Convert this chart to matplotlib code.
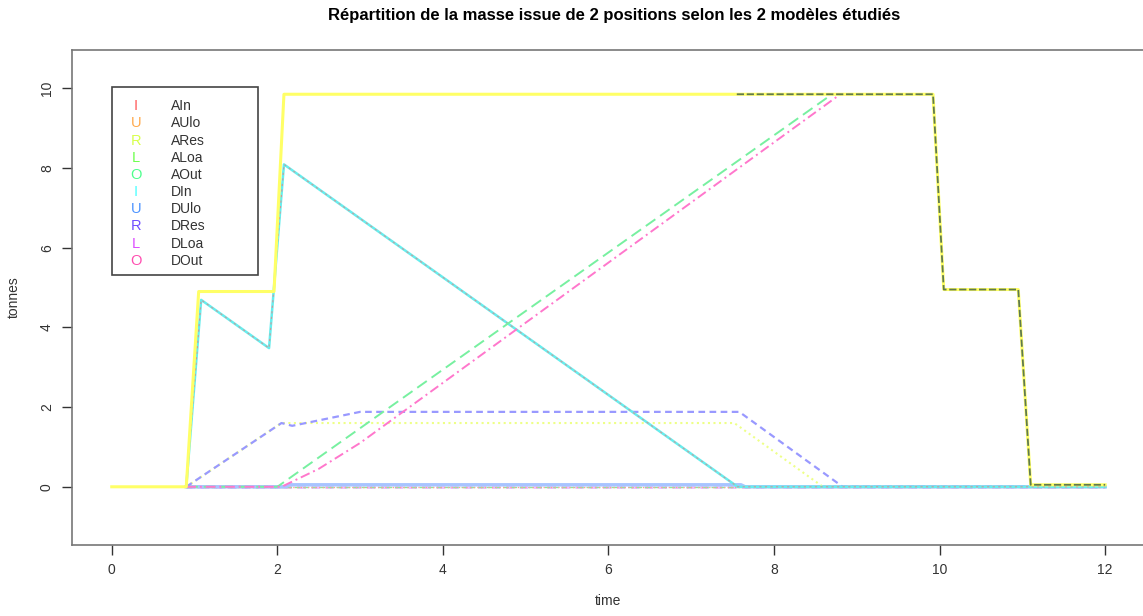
import matplotlib
matplotlib.use("Agg")
import matplotlib.pyplot as plt
from matplotlib.patches import Rectangle

plt.rcParams["font.family"] = ["Liberation Sans", "DejaVu Sans"]

# values (time in x, tonnes in y)
t_in = [0.9, 1.08, 1.9, 2.08, 7.56, 12]
v_in = [0, 4.69, 3.48, 8.09, 0, 0]

t_ulo = [0.9, 2.1, 2.15, 7.6, 7.65, 12]
v_ulo = [0, 0, 0.05, 0.05, 0, 0]

t_ares = [0.9, 2.05, 7.52, 8.59, 12]
v_ares = [0, 1.6, 1.6, 0, 0]

t_dres = [0.9, 2.05, 2.18, 3.0, 7.58, 8.83, 12]
v_dres = [0, 1.6, 1.53, 1.88, 1.88, 0, 0]

t_aout = [0.9, 2.0, 8.7, 9.9]
v_aout = [0, 0, 9.85, 9.85]

t_dout = [0.9, 2.05, 2.5, 3.0, 8.8, 9.9]
v_dout = [0, 0, 0.45, 1.1, 9.85, 9.85]

t_zero = [0.9, 12]
v_zero = [0, 0]

t_total = [0, 0.9, 1.05, 1.96, 2.08, 9.92, 10.05, 10.95, 11.1, 12]
v_total = [0, 0, 4.9, 4.9, 9.85, 9.85, 4.95, 4.95, 0.05, 0.05]

t_stock = [7.55, 9.92, 10.05, 10.95, 11.1, 12]
v_stock = [9.85, 9.85, 4.95, 4.95, 0.05, 0.05]

names = ["AIn", "AUlo", "ARes", "ALoa", "AOut", "DIn", "DUlo", "DRes", "DLoa", "DOut"]
letters = ["I", "U", "R", "L", "O", "I", "U", "R", "L", "O"]
colors = ["#ff5c5c", "#ffaa4d", "#d8ff4d", "#6dff4d", "#4dff8c",
          "#4dffff", "#4d94ff", "#704dff", "#dc4dff", "#ff4db0"]

fig = plt.figure(figsize=(11.43, 6.16), dpi=100)
ax = fig.add_axes([0.063, 0.1153, 0.9387, 0.8035])

# lines at zero
ax.plot(t_zero, v_zero, color="#eebbff", lw=2, ls=(0, (3, 2)))
ax.plot(t_zero, v_zero, color="#88ee99", lw=1, ls=(0, (4, 2)))
ax.plot(t_zero, v_zero, color="#ff9999", lw=1, ls=":")
ax.plot([0.9, 2.1], [0, 0], color="#8866ff", lw=1.6, ls=(0, (3, 2)))
ax.plot(t_ulo, v_ulo, color="#a8c4ff", lw=2.5)

ax.plot(t_ares, v_ares, color="#eeff88", lw=1.5, ls=":")
ax.plot(t_dres, v_dres, color="#9999ff", lw=1.6, ls=(0, (3, 2)))
ax.plot(t_in, v_in, color="#66eeee", lw=1.8)
ax.plot(t_in, v_in, color="#cc9999", lw=0.8, ls=(0, (2, 3)))
ax.plot(t_aout, v_aout, color="#77f0a0", lw=1.4, ls=(0, (6, 3)))
ax.plot(t_dout, v_dout, color="#ff77cc", lw=1.4, ls=(0, (5, 2, 1, 2)))

ax.plot(t_total, v_total, color="#ffff66", lw=2.2)
ax.plot(t_stock, v_stock, color="#5f7a50", lw=1.3, ls=(0, (4, 1.5)))

ax.set_xlim(-0.48, 12.48)
ax.set_ylim(-1.46, 10.96)
ax.set_xticks(range(0, 13, 2))
ax.set_yticks(range(0, 11, 2))
for s in ax.spines.values():
    s.set_color("#777777")
    s.set_linewidth(1.2)
ax.tick_params(colors="#333333", length=7, width=1, labelsize=10, pad=6)
ax.tick_params(axis="y", labelrotation=90)
for lab in ax.get_yticklabels():
    lab.set_va("center")
ax.set_xlabel("time", fontsize=10, color="#333333", labelpad=12)
ax.set_ylabel("tonnes", fontsize=10, color="#333333", labelpad=14)
fig.suptitle("Répartition de la masse issue de 2 positions selon les 2 modèles étudiés",
             fontsize=12, fontweight="bold", y=0.987, x=0.537)

# R style legend with letters
ax.add_patch(Rectangle((0, 5.31), 1.77, 4.72, fill=False, ec="#444444", lw=1.2))
for i, (n, l, c) in enumerate(zip(names, letters, colors)):
    y = 9.55 - i * 0.431
    ax.text(0.29, y, l, color=c, fontsize=10.5, ha="center", va="center")
    ax.text(0.71, y, n, color="#333333", fontsize=10, ha="left", va="center")

fig.savefig("out.png", dpi=100)
